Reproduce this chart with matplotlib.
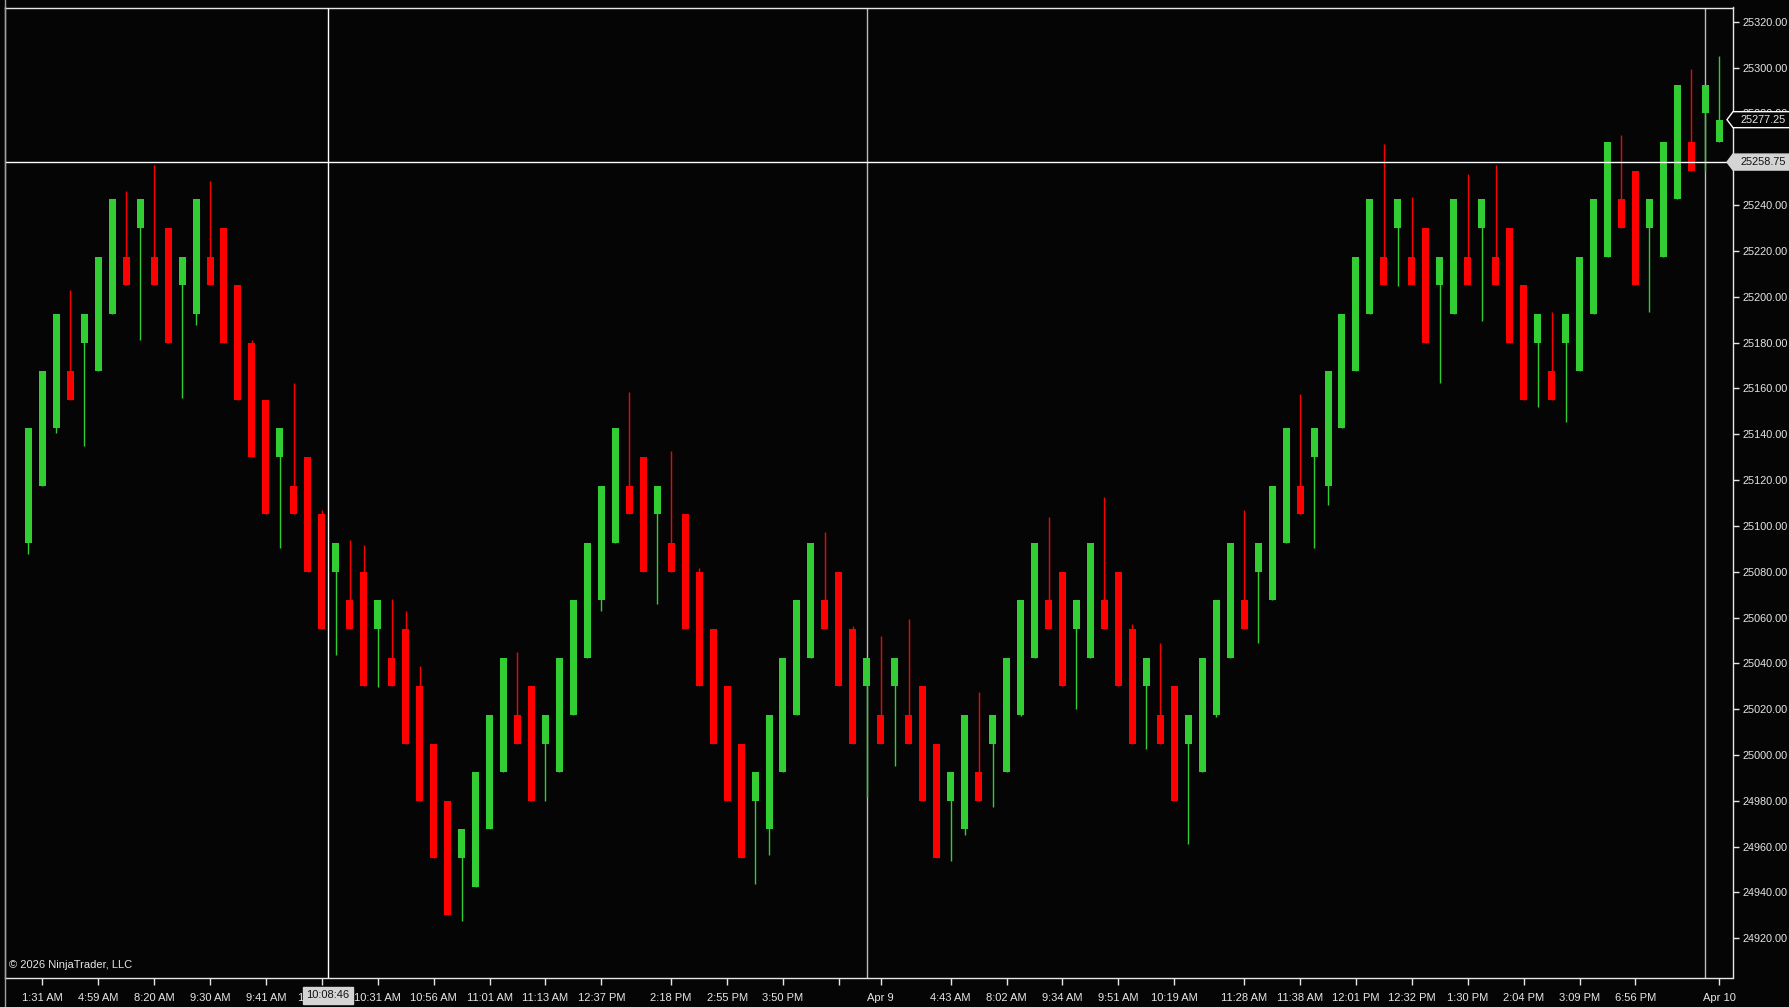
import numpy as np
import matplotlib
matplotlib.use("Agg")
import matplotlib.pyplot as plt
from matplotlib.patches import Polygon
from matplotlib.lines import Line2D
from matplotlib.transforms import IdentityTransform

# renko-style bars (price)
opens = [
    25092.5, 25117.5, 25142.5, 25167.5, 25180.0, 25167.5, 25192.5, 25217.5, 25230.0, 25217.5,
    25230.0, 25205.0, 25192.5, 25217.5, 25230.0, 25205.0, 25180.0, 25155.0, 25130.0, 25117.5,
    25130.0, 25105.0, 25080.0, 25067.5, 25080.0, 25055.0, 25042.5, 25055.0, 25030.0, 25005.0,
    24980.0, 24955.0, 24942.5, 24967.5, 24992.5, 25017.5, 25030.0, 25005.0, 24992.5, 25017.5,
    25042.5, 25067.5, 25092.5, 25117.5, 25130.0, 25105.0, 25092.5, 25105.0, 25080.0, 25055.0,
    25030.0, 25005.0, 24980.0, 24967.5, 24992.5, 25017.5, 25042.5, 25067.5, 25080.0, 25055.0,
    25030.0, 25017.5, 25030.0, 25017.5, 25030.0, 25005.0, 24980.0, 24967.5, 24992.5, 25005.0,
    24992.5, 25017.5, 25042.5, 25067.5, 25080.0, 25055.0, 25042.5, 25067.5, 25080.0, 25055.0,
    25030.0, 25017.5, 25030.0, 25005.0, 24992.5, 25017.5, 25042.5, 25067.5, 25080.0, 25067.5,
    25092.5, 25117.5, 25130.0, 25117.5, 25142.5, 25167.5, 25192.5, 25217.5, 25230.0, 25217.5,
    25230.0, 25205.0, 25192.5, 25217.5, 25230.0, 25217.5, 25230.0, 25205.0, 25180.0, 25167.5,
    25180.0, 25167.5, 25192.5, 25217.5, 25242.5, 25255.0, 25230.0, 25217.5, 25242.5, 25267.5,
    25280.0, 25267.5,
]
closes = [
    25142.5, 25167.5, 25192.5, 25155.0, 25192.5, 25217.5, 25242.5, 25205.0, 25242.5, 25205.0,
    25180.0, 25217.5, 25242.5, 25205.0, 25180.0, 25155.0, 25130.0, 25105.0, 25142.5, 25105.0,
    25080.0, 25055.0, 25092.5, 25055.0, 25030.0, 25067.5, 25030.0, 25005.0, 24980.0, 24955.0,
    24930.0, 24967.5, 24992.5, 25017.5, 25042.5, 25005.0, 24980.0, 25017.5, 25042.5, 25067.5,
    25092.5, 25117.5, 25142.5, 25105.0, 25080.0, 25117.5, 25080.0, 25055.0, 25030.0, 25005.0,
    24980.0, 24955.0, 24992.5, 25017.5, 25042.5, 25067.5, 25092.5, 25055.0, 25030.0, 25005.0,
    25042.5, 25005.0, 25042.5, 25005.0, 24980.0, 24955.0, 24992.5, 25017.5, 24980.0, 25017.5,
    25042.5, 25067.5, 25092.5, 25055.0, 25030.0, 25067.5, 25092.5, 25055.0, 25030.0, 25005.0,
    25042.5, 25005.0, 24980.0, 25017.5, 25042.5, 25067.5, 25092.5, 25055.0, 25092.5, 25117.5,
    25142.5, 25105.0, 25142.5, 25167.5, 25192.5, 25217.5, 25242.5, 25205.0, 25242.5, 25205.0,
    25180.0, 25217.5, 25242.5, 25205.0, 25242.5, 25205.0, 25180.0, 25155.0, 25192.5, 25155.0,
    25192.5, 25217.5, 25242.5, 25267.5, 25230.0, 25205.0, 25242.5, 25267.5, 25292.5, 25255.0,
    25292.5, 25277.25,
]
highs = [
    25142.5, 25167.5, 25192.5, 25202.75, 25192.5, 25217.5, 25242.5, 25246.0, 25242.5, 25257.5,
    25230.0, 25217.5, 25242.5, 25250.5, 25230.0, 25205.0, 25181.25, 25155.0, 25142.5, 25162.25,
    25130.0, 25106.75, 25092.5, 25093.75, 25091.5, 25067.5, 25068.25, 25062.75, 25038.75, 25005.0,
    24980.0, 24967.5, 24992.5, 25017.5, 25042.5, 25045.0, 25030.0, 25017.5, 25042.5, 25067.5,
    25092.5, 25117.5, 25142.5, 25158.25, 25130.0, 25117.5, 25132.5, 25105.0, 25081.75, 25055.0,
    25030.0, 25005.0, 24992.5, 25017.5, 25042.5, 25067.5, 25092.5, 25097.5, 25080.0, 25056.5,
    25042.5, 25051.75, 25042.5, 25059.5, 25030.0, 25005.0, 24992.5, 25017.5, 25027.5, 25017.5,
    25042.5, 25067.5, 25092.5, 25104.0, 25080.0, 25067.5, 25092.5, 25112.5, 25080.0, 25057.0,
    25042.5, 25049.0, 25030.0, 25017.5, 25042.5, 25067.5, 25092.5, 25107.0, 25092.5, 25117.5,
    25142.5, 25157.5, 25142.5, 25167.5, 25192.5, 25217.5, 25242.5, 25266.5, 25242.5, 25243.5,
    25230.0, 25217.5, 25242.5, 25253.75, 25242.5, 25257.5, 25230.0, 25205.0, 25192.5, 25193.5,
    25192.5, 25217.5, 25242.5, 25267.5, 25270.5, 25255.0, 25242.5, 25267.5, 25292.5, 25299.25,
    25292.5, 25305.0,
]
lows = [
    25087.5, 25117.5, 25140.5, 25155.0, 25135.0, 25167.5, 25192.5, 25205.0, 25181.0, 25205.0,
    25180.0, 25155.75, 25187.5, 25205.0, 25180.0, 25155.0, 25130.0, 25105.0, 25090.5, 25105.0,
    25080.0, 25055.0, 25043.75, 25055.0, 25030.0, 25029.5, 25030.0, 25005.0, 24980.0, 24955.0,
    24930.0, 24927.5, 24942.5, 24967.5, 24992.5, 25005.0, 24980.0, 24980.0, 24992.5, 25017.5,
    25042.5, 25062.75, 25092.5, 25105.0, 25080.0, 25065.75, 25080.0, 25055.0, 25030.0, 25005.0,
    24980.0, 24955.0, 24943.75, 24956.25, 24992.5, 25017.5, 25042.5, 25055.0, 25030.0, 25005.0,
    24981.5, 25005.0, 24995.0, 25005.0, 24980.0, 24955.0, 24953.75, 24965.0, 24980.0, 24977.5,
    24992.5, 25017.0, 25042.5, 25055.0, 25030.0, 25020.0, 25042.5, 25055.0, 25030.0, 25005.0,
    25002.5, 25005.0, 24980.0, 24961.25, 24992.5, 25016.5, 25042.5, 25055.0, 25049.0, 25067.5,
    25092.5, 25105.0, 25090.5, 25109.0, 25142.5, 25167.5, 25192.5, 25205.0, 25204.5, 25205.0,
    25180.0, 25162.5, 25192.5, 25205.0, 25189.5, 25205.0, 25180.0, 25155.0, 25151.75, 25155.0,
    25145.5, 25167.5, 25192.5, 25217.5, 25230.0, 25205.0, 25193.5, 25217.5, 25242.5, 25255.0,
    25255.0, 25267.5,
]

tick_idx = [1, 5, 9, 13, 17, 21, 25, 29, 33, 37, 41, 46, 50, 54, 58, 61,
            66, 70, 74, 78, 82, 87, 91, 95, 99, 103, 107, 111, 115, 121]
tick_labels = ["1:31 AM", "4:59 AM", "8:20 AM", "9:30 AM", "9:41 AM", "10:01 AM",
               "10:31 AM", "10:56 AM", "11:01 AM", "11:13 AM", "12:37 PM", "2:18 PM",
               "2:55 PM", "3:50 PM", "", "Apr 9", "4:43 AM", "8:02 AM", "9:34 AM",
               "9:51 AM", "10:19 AM", "11:28 AM", "11:38 AM", "12:01 PM", "12:32 PM",
               "1:30 PM", "2:04 PM", "3:09 PM", "6:56 PM", "Apr 10"]
price_ticks = [24920, 24940, 24960, 24980, 25000, 25020, 25040, 25060, 25080, 25100, 25120,
               25140, 25160, 25180, 25200, 25220, 25240, 25260, 25280, 25300, 25320]
day_breaks = [60, 120]
cursor_idx = 21.42
cursor_price = 25258.75
cursor_time = "10:08:46"
last_price = 25277.25

BG = "#050505"
UP = "#32cd32"
DN = "#ff0000"
FG = "#e6e6e6"

plt.rcParams["font.family"] = ["Liberation Sans", "DejaVu Sans"]

W, H = 1790, 1007
fig = plt.figure(figsize=(W / 100, H / 100), dpi=100, facecolor=BG)
ax = fig.add_axes([5 / W, (H - 977.5) / H, (1733 - 5) / W, (977.5 - 7.5) / H], facecolor=BG)

o = np.array(opens)
c = np.array(closes)
x = np.arange(len(o))
col = np.where(c >= o, UP, DN)

for d in day_breaks:
    ax.axvline(d, color="#bcbcbc", lw=1, zorder=1)

ax.vlines(x, lows, highs, colors=col, lw=1, zorder=3)
ax.bar(x, np.abs(c - o), bottom=np.minimum(o, c), width=0.5, color=col, lw=0, zorder=4)

ax.axvline(cursor_idx, color="white", lw=1, zorder=6)
ax.axhline(cursor_price, color="white", lw=1, zorder=6)

ax.set_xlim(-1.67, 121.98)
ax.set_ylim(24902.9, 25326.2)

ax.set_xticks(tick_idx)
ax.set_xticklabels(tick_labels)
ax.yaxis.tick_right()
ax.set_yticks(price_ticks)
ax.set_yticklabels([f"{v:.2f}" for v in price_ticks])
ax.tick_params(axis="y", colors=FG, labelsize=7.8, length=4, width=1, pad=2.5)
ax.tick_params(axis="x", colors=FG, labelsize=8, length=5, width=1, pad=6)
for s in ax.spines.values():
    s.set_color(FG)
    s.set_linewidth(1)
ax.spines["left"].set_color("#a0a0a0")

# left border runs full height
fig.add_artist(Line2D([5 / W, 5 / W], [0, 1], color="#a0a0a0", lw=1))


def price_tag(price, fc, ec, tc):
    yp = ax.transData.transform((0, price))[1]
    xa = ax.transAxes.transform((1, 0))[0]
    h = 8
    verts = [(xa - 6, yp), (xa, yp + h), (W + 2, yp + h), (W + 2, yp - h), (xa, yp - h)]
    fig.add_artist(Polygon(verts, closed=True, transform=IdentityTransform(),
                           fc=fc, ec=ec, lw=1, zorder=5))
    fig.text((xa + 8) / W, yp / H, f"{price:.2f}", color=tc, fontsize=7.8,
             ha="left", va="center", zorder=6)


price_tag(last_price, BG, "white", FG)
price_tag(cursor_price, "#d4d4d4", "#d4d4d4", "#111111")

fig.text(328 / W, (H - 995.5) / H, cursor_time, color="#111111", fontsize=8,
         ha="center", va="center", zorder=6,
         bbox=dict(boxstyle="square,pad=0.35", fc="#d4d4d4", ec="#d4d4d4"))

fig.text(9 / W, (H - 964.6) / H, "\u00a9 2026 NinjaTrader, LLC", color=FG, fontsize=8,
         ha="left", va="center")

fig.savefig("out.png", dpi=100, facecolor=BG)
plt.close(fig)
